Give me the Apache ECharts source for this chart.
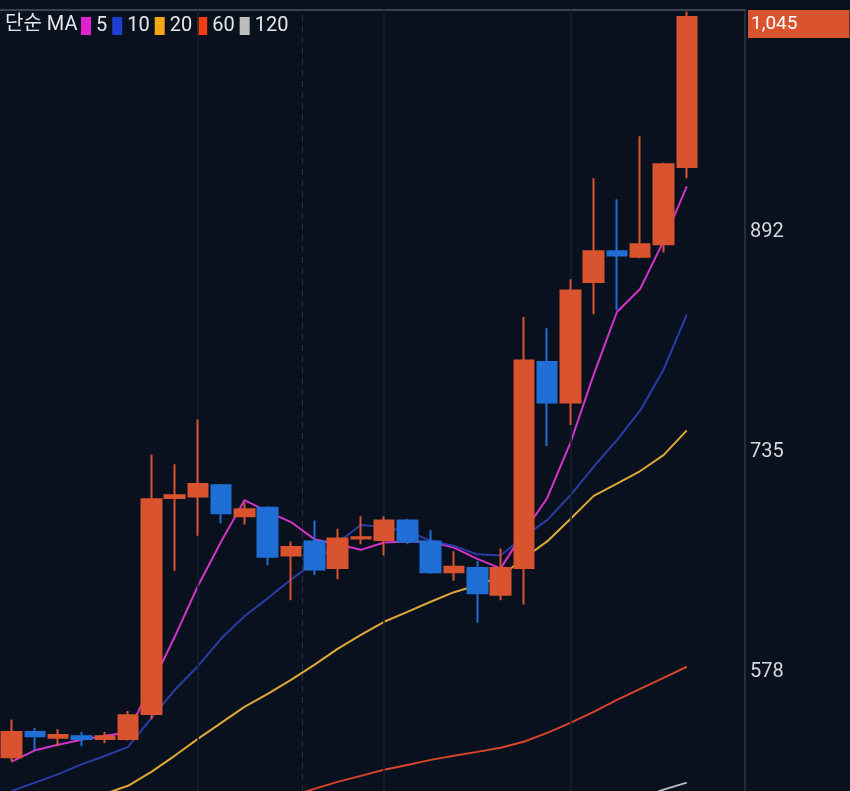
<!DOCTYPE html>
<html>
<head>
<meta charset="utf-8">
<script src="https://cdn.jsdelivr.net/npm/echarts@6/dist/echarts.min.js"></script>
<style>
html,body{margin:0;padding:0;background:#09111e;}
#c{width:850px;height:791px;}
</style>
</head>
<body>
<div id="c"></div>
<script>
// ---- data ----
const categories = ['1','2','3','4','5','6','7','8','9','10','11','12','13','14','15','16','17','18','19','20','21','22','23','24','25','26','27','28','29','30','31','32'];
const opens  = [517,535,531,532,530,530,548,702,703,711,689,695,661,671,652,673,672,686,671,649,652,633,652,799,770,856,878,874,883,938];
const closes = [535,532,533,530,532,547,701,704,712,691,694,660,667,651,673,674,686,671,649,653,634,652,800,770,850,878,875,883,940,1045];
const lows   = [514,522,525,525,527,529,544,650,675,684,683,654,629,647,644,669,661,669,648,643,613,629,626,739,754,833,836,873,877,930];
const highs  = [544,538,537,535,535,550,733,726,758,712,699,696,671,686,680,689,689,687,679,664,657,666,831,823,858,930,915,960,941,1049];

const ma5   = [514,522,526,529.5,532.4,534.8,568.6,602.8,639.2,671,700.4,692.2,684.8,672.6,669,665,670.2,671,670.6,666.6,658.6,651.8,677.6,701.8,741.2,790,834.6,851.2,885.2,924.2];
const ma10  = [493,499,505,512,518,524.5,545,565,582,601.7,617.6,630.4,643.8,655.9,670,682.7,681.2,677.9,671.6,667.8,661.8,661,674.3,686.2,703.9,724.3,743.2,764.4,793.5,832.7];
const ma20  = [null,null,null,null,491,496.7,506.6,518.1,530.2,541.6,553,562.3,572.3,583,594.4,604.4,613.7,620.8,628,634.8,639.7,646,659,671,687,703.5,712.2,721.2,732.5,750.2];
const ma60  = [null,null,null,null,null,null,null,null,null,null,null,null,489.5,494.5,499.5,503.8,508.1,511.6,515.2,518.1,520.9,523.8,528.1,534.5,541.6,549.5,558,565.9,573.7,581.6];
const ma120 = [null,null,null,null,null,null,null,null,null,null,null,null,null,null,null,null,null,null,null,null,null,null,null,null,null,null,null,488,494,499];

const maNames = ['5','10','20','60','120'];
const yTicks = [578, 735, 892];
const lastPrice = 1045;
const solidGuides = [8, 16, 24];
const dashedGuides = [12.5];

// ---- styles ----
const FONT = 'Roboto, "Noto Sans CJK KR", sans-serif';
const UP = '#d9532f', DOWN = '#1f6fd6';
const maLineColors = ['#d432cc', '#2b3ca8', '#e0a834', '#d8452a', '#b8bcc4'];
const maSwatchColors = ['#e022cf', '#1f3fd0', '#f3a712', '#f23d12', '#bdbdbd'];
const maSeriesData = [ma5, ma10, ma20, ma60, ma120];

const candleData = opens.map((o, i) => [o, closes[i], lows[i], highs[i]]);

const chart = echarts.init(document.getElementById('c'), null, {renderer: 'canvas'});

const series = [
  {
    name: 'K',
    type: 'candlestick',
    data: candleData,
    barWidth: '86%',
    z: 5,
    itemStyle: {color: UP, color0: DOWN, borderColor: UP, borderColor0: DOWN, borderWidth: 2},
    markLine: {
      silent: true,
      symbol: 'none',
      animation: false,
      lineStyle: {width: 0, color: 'rgba(0,0,0,0)'},
      data: [{yAxis: lastPrice}],
      label: {
        show: true,
        position: 'end',
        distance: 3,
        offset: [0, 7],
        formatter: () => lastPrice.toLocaleString('en-US'),
        color: '#ffffff',
        backgroundColor: UP,
        fontFamily: FONT,
        fontSize: 19,
        padding: [5, 52, 4, 3]
      }
    }
  }
];

maNames.forEach((n, k) => {
  series.push({
    name: n,
    type: 'line',
    data: maSeriesData[k],
    showSymbol: false,
    symbol: 'none',
    z: 3,
    clip: true,
    color: maLineColors[k],
    lineStyle: {width: 2, color: maLineColors[k]}
  });
});

series.push({
  type: 'line',
  xAxisIndex: 1,
  data: [],
  z: 1,
  markLine: {
    silent: true,
    symbol: 'none',
    animation: false,
    label: {show: false},
    lineStyle: {color: '#172030', width: 1.5, type: 'solid'},
    data: solidGuides.map(v => ({xAxis: v}))
  }
});
series.push({
  type: 'line',
  xAxisIndex: 1,
  data: [],
  z: 1,
  markLine: {
    silent: true,
    symbol: 'none',
    animation: false,
    label: {show: false},
    lineStyle: {color: '#263042', width: 1.2, type: [6, 5]},
    data: dashedGuides.map(v => ({xAxis: v}))
  }
});

const option = {
  backgroundColor: '#09111e',
  animation: false,
  title: {
    text: '단순 MA',
    left: 5, top: 15, padding: 0,
    textStyle: {color: '#e4e6e9', fontSize: 20, fontWeight: 'normal', fontFamily: FONT}
  },
  legend: {
    left: 81, top: 16, padding: 0,
    icon: 'rect', itemWidth: 10, itemHeight: 18, itemGap: 5,
    selectedMode: false,
    textStyle: {color: '#e4e6e9', fontSize: 20, fontFamily: FONT},
    data: maNames.map((n, k) => ({name: n, itemStyle: {color: maSwatchColors[k]}}))
  },
  grid: {left: 0, right: 105, top: 10, bottom: 0},
  xAxis: [
    {
      type: 'category', data: categories, position: 'top', boundaryGap: true,
      axisLine: {show: true, onZero: false, lineStyle: {color: '#3a4455', width: 2}},
      axisTick: {show: false}, axisLabel: {show: false}, splitLine: {show: false}
    },
    {type: 'value', min: -0.5, max: 31.5, show: false, axisLine: {onZero: false}}
  ],
  yAxis: {
    type: 'value', position: 'right', min: 493, max: 1050, scale: true,
    axisLine: {show: true, onZero: false, lineStyle: {color: '#2c3747', width: 1.5}},
    axisTick: {show: false},
    splitLine: {show: false},
    axisLabel: {
      customValues: yTicks,
      color: '#d6d9dd', fontSize: 20, margin: 5, fontFamily: FONT,
      formatter: v => v.toLocaleString('en-US')
    }
  },
  series: series
};
chart.setOption(option);
</script>
</body>
</html>
